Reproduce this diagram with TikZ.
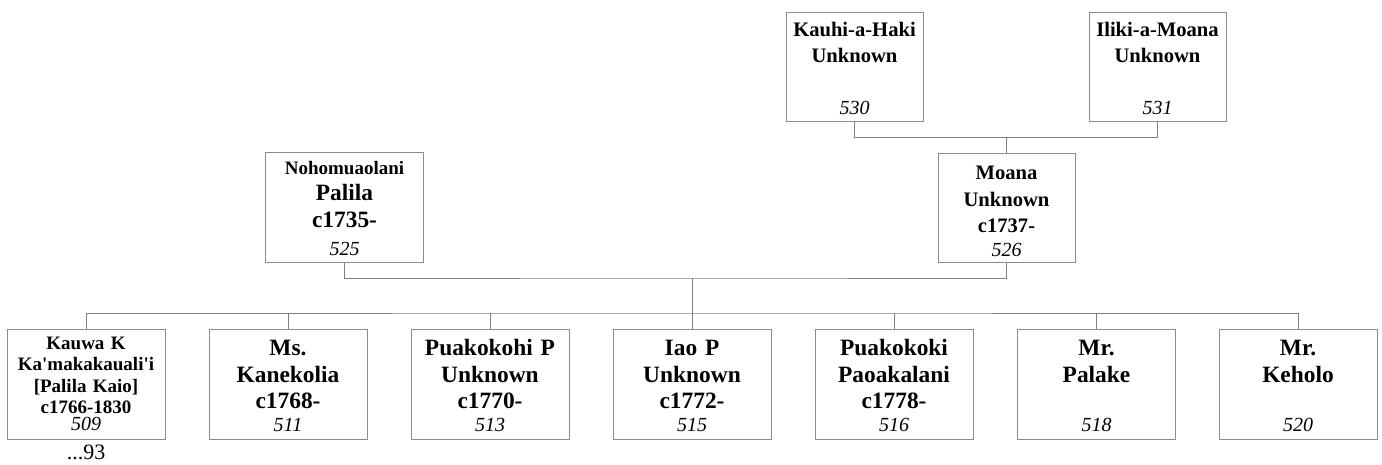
\documentclass[tikz,border=0pt]{standalone}
\usepackage{fontspec}
\setmainfont{Liberation Serif}
\usetikzlibrary{positioning}
\newcommand{\idno}[2][-4pt]{\\[#1]{\fontsize{20}{20}\selectfont\mdseries\itshape #2}}

\begin{document}
\begin{tikzpicture}[x=1pt, y=-1pt,
    person/.style={draw=black!45, line width=1pt, fill=white, inner xsep=3pt, inner ysep=0pt,
        text width=152pt, minimum height=110pt, align=center,
        font=\fontsize{23.4}{26.5}\selectfont\bfseries},
    elder/.style={person, text width=131pt, minimum height=109pt,
        font=\fontsize{20.6}{26.5}\selectfont\bfseries},
    link/.style={draw=black!50, line width=1pt}]
    \useasboundingbox (0,0) rectangle (1382,464);
    % grandparents
    \node[elder] (kauhi) at (854.5,66.5)
        {\rule{0pt}{18pt}Kauhi-a-Haki\\Unknown\\\mbox{}\idno[-1.5pt]{530}};
    \node[elder] (iliki) at (1157.5,66.5)
        {\rule{0pt}{18pt}Iliki-a-Moana\\Unknown\\\mbox{}\idno[-1.5pt]{531}};
    % parents
    \node[person] (nohomuaolani) at (344.5,207.5)
        {\rule{0pt}{15pt}{\fontsize{19}{21}\selectfont Nohomuaolani}\\Palila\\c1735-\idno[2pt]{525}};
    \node[elder] (moana) at (1006.5,208)
        {\rule{0pt}{20.6pt}Moana\\Unknown\\c1737-\idno[-2.5pt]{526}};
    % children
    \node[person, font=\fontsize{19}{21.3}\selectfont\bfseries] (kauwa) at (86,384)
        {Kauwa K\\Ka\textquotesingle makakauali\textquotesingle i\\\relax[Palila Kaio]\\c1766-1830\idno[-4.3pt]{509}};
    \node[person] (kanekolia) at (288,384) {\rule{0pt}{19pt}Ms.\\Kanekolia\\c1768-\idno{511}};
    \node[person] (puakokohi) at (490,384) {\rule{0pt}{19pt}Puakokohi P\\Unknown\\c1770-\idno{513}};
    \node[person] (iao) at (692,384) {\rule{0pt}{19pt}Iao P\\Unknown\\c1772-\idno{515}};
    \node[person] (puakokoki) at (894,384) {\rule{0pt}{19pt}Puakokoki\\Paoakalani\\c1778-\idno{516}};
    \node[person] (palake) at (1096.5,384) {\rule{0pt}{19pt}Mr.\\Palake\\\mbox{}\idno{518}};
    \node[person] (keholo) at (1298,384) {\rule{0pt}{19pt}Mr.\\Keholo\\\mbox{}\idno{520}};
    \node[anchor=base, font=\fontsize{22}{22}\selectfont] (more509) at (86,459) {...93};

    % lines
    \draw[link] (kauhi.south) -- ++(0,16) -| (iliki.south);
    \draw[link] (moana.north) -- ++(0,-16);
    \coordinate (couple) at (692,278);
    \coordinate (sibs) at (692,313);
    \draw[link] (nohomuaolani.south) |- (couple) -| (moana.south);
    \draw[link] (couple) -- (iao.north);
    \draw[link] (kauwa.north) |- (sibs) -| (keholo.north);
    \foreach \k in {kanekolia, puakokohi, puakokoki, palake}
        \draw[link] (\k.north) -- (\k.north |- sibs);
\end{tikzpicture}
\end{document}
